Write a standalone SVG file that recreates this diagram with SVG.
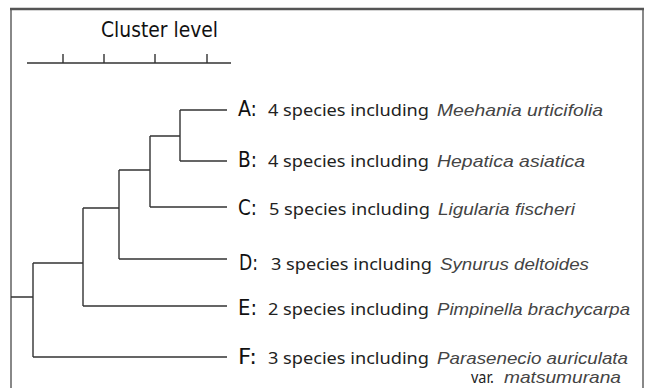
<svg xmlns="http://www.w3.org/2000/svg" width="647" height="388" viewBox="0 0 647 388">
<style>
.frame{stroke:#888;stroke-width:2;fill:none}
.top{stroke:#555;stroke-width:2.5;fill:none}
.ln{stroke:#333;stroke-width:1.4;fill:none}
.cond{font-family:"DejaVu Sans Condensed","Liberation Sans Narrow","DejaVu Sans",sans-serif;font-stretch:condensed;fill:#111}
.lbl{font-family:"DejaVu Sans Condensed","Liberation Sans Narrow","DejaVu Sans",sans-serif;font-stretch:condensed;font-size:21px;fill:#111}
.sp{font-family:"Noto Sans","Open Sans",sans-serif;font-size:16.5px;fill:#222}
.it{font-family:"Liberation Sans",Arial,sans-serif;font-style:italic;font-size:16.5px;fill:#444}
</style>
<rect width="647" height="388" fill="#fff"/>
<g id="frame">
<line class="frame" x1="11" y1="9" x2="11" y2="388"/>
<line class="frame" x1="643" y1="9" x2="643" y2="388"/>
<line class="top" x1="10" y1="9" x2="644" y2="9"/>
</g>
<g id="scale">
<text class="cond" x="101" y="37" font-size="21" textLength="117" lengthAdjust="spacingAndGlyphs">Cluster  level</text>
<path class="ln" d="M27 63H231M63 54V63M104 54V63M155 54V63M207 54V63"/>
</g>
<g id="connectors">
<path class="ln" d="M11 297H33M33 263V357M33 357H227M33 263H83M83 208V306M83 306H227M83 208H119M119 170V259M119 259H227M119 170H150M150 136V207M150 207H227M150 136H180M180 110V161M180 110H227M180 161H227"/>
</g>
<g id="A">
<text class="lbl" x="238" y="116" textLength="19" lengthAdjust="spacingAndGlyphs">A:</text>
<text class="sp" x="268" y="116" textLength="161" lengthAdjust="spacingAndGlyphs">4 species including</text>
<text class="it" x="437" y="116" textLength="166" lengthAdjust="spacingAndGlyphs">Meehania urticifolia</text>
</g>
<g id="B">
<text class="lbl" x="238" y="167" textLength="19" lengthAdjust="spacingAndGlyphs">B:</text>
<text class="sp" x="268" y="167" textLength="161" lengthAdjust="spacingAndGlyphs">4 species including</text>
<text class="it" x="437" y="167" textLength="148" lengthAdjust="spacingAndGlyphs">Hepatica asiatica</text>
</g>
<g id="C">
<text class="lbl" x="238" y="215" textLength="19" lengthAdjust="spacingAndGlyphs">C:</text>
<text class="sp" x="269" y="215" textLength="161" lengthAdjust="spacingAndGlyphs">5 species including</text>
<text class="it" x="438" y="215" textLength="137" lengthAdjust="spacingAndGlyphs">Ligularia fischeri</text>
</g>
<g id="D">
<text class="lbl" x="239" y="270" textLength="19" lengthAdjust="spacingAndGlyphs">D:</text>
<text class="sp" x="271" y="270" textLength="161" lengthAdjust="spacingAndGlyphs">3 species including</text>
<text class="it" x="440" y="270" textLength="149" lengthAdjust="spacingAndGlyphs">Synurus deltoides</text>
</g>
<g id="E">
<text class="lbl" x="238" y="315" textLength="19" lengthAdjust="spacingAndGlyphs">E:</text>
<text class="sp" x="268" y="315" textLength="161" lengthAdjust="spacingAndGlyphs">2 species including</text>
<text class="it" x="437" y="315" textLength="193" lengthAdjust="spacingAndGlyphs">Pimpinella brachycarpa</text>
</g>
<g id="F">
<text class="lbl" x="238" y="364" textLength="19" lengthAdjust="spacingAndGlyphs">F:</text>
<text class="sp" x="268" y="364" textLength="161" lengthAdjust="spacingAndGlyphs">3 species including</text>
<text class="it" x="437" y="364" textLength="191" lengthAdjust="spacingAndGlyphs">Parasenecio auriculata</text>
<text class="sp" x="471" y="383" textLength="23" lengthAdjust="spacingAndGlyphs">var.</text>
<text class="it" x="504" y="383" textLength="117" lengthAdjust="spacingAndGlyphs">matsumurana</text>
</g>
</svg>
